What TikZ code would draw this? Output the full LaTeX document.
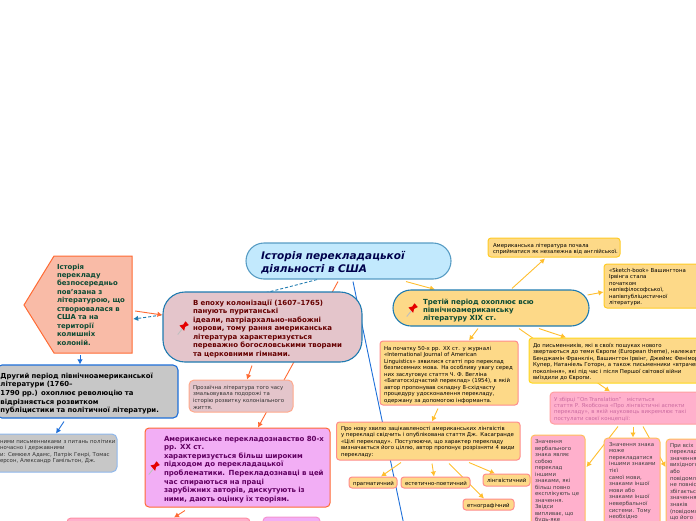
\documentclass[tikz,border=0pt]{standalone}
\usepackage{fontspec}
\setmainfont{DejaVu Sans}
\usetikzlibrary{arrows.meta,backgrounds}
\newcommand\Z[1]{\mbox{#1}\par}
% name, x1, y1, x2, y2, style, left pad, first baseline offset, lines
\newcommand\bx[9]{%
  \pgfmathsetmacro\bxw{#4-#2}\pgfmathsetmacro\bxh{#5-#3}%
  \pgfmathsetmacro\bxcx{(#2+#4)/2}\pgfmathsetmacro\bxcy{(#3+#5)/2}%
  \pgfmathsetmacro\bxt{max(#4-#2-2*#7,1)}\pgfmathsetmacro\bxd{#5-#3-#8}%
  \node[#6,inner xsep=#7pt,inner ysep=0pt,text width=\bxt pt,
        text height=#8pt,text depth=\bxd pt] (#1) at (\bxcx,\bxcy) {#9};}
\newcommand\pin[2]{%
  \begin{scope}[shift={(#1,#2)},scale=1.25]
    \draw[black!25,line width=.9pt] (-5,6) -- (-.5,.5);
    \fill[red!90!black] (-3.6,-1.2) -- (-.6,-2) -- (1.2,-4.6) -- (3.8,-1.6) -- (.9,-.1) -- (.1,3) -- cycle;
  \end{scope}}
\definecolor{ylw}{HTML}{FDD988}
\definecolor{rosy}{HTML}{E4C5CB}
\definecolor{ogr}{HTML}{FF6A33}
\definecolor{gold}{HTML}{FFBE2E}
\definecolor{blu}{HTML}{1E6FD9}
\definecolor{tblu}{HTML}{1F7BB0}
\definecolor{pnk}{HTML}{FFB0CC}
\definecolor{orch}{HTML}{F2AEF5}
\definecolor{salm}{HTML}{F9BBA7}
\definecolor{dgrn}{HTML}{0B4A33}
\definecolor{skyb}{HTML}{C2E9FD}
\tikzset{
  box/.style={draw,rectangle,line width=1pt,anchor=center},
  big/.style={box,rounded corners=18pt,draw=tblu,line width=1.1pt},
  fa/.style={font=\fontsize{5.4}{6.5}\selectfont},
  fb/.style={font=\bfseries\fontsize{7}{8.55}\selectfont},
  yb/.style={box,fa,fill=ylw,rounded corners=3pt},
  tag/.style={yb,draw=#1},
  tag/.default={red!45},
  arr/.style={-{Latex[length=5pt,width=5.5pt]},line width=.9pt},
  og/.style={arr,draw=ogr},
  gd/.style={arr,draw=gold},
  bl/.style={arr,draw=blu}
}
\begin{document}
\begin{tikzpicture}[x=1pt,y=-1pt]
\useasboundingbox (0,0) rectangle (696,520);
\clip (0,0) rectangle (696,520);

\bx{root}{246}{243}{451}{279}{big,draw=tblu!75,fill=skyb,text=blue!30!black,font=\bfseries\itshape\fontsize{10.5}{12.7}\selectfont}{15}{16.5}{\Z{Історія перекладацької}\Z{діяльності в США}}

\bx{col}{163}{292}{362}{362}{big,rounded corners=22pt,fill=rosy,text=red!40!black,fb}{30}{13}{\Z{В епоху колонізації (1607–1765)}\Z{панують пуританські}\Z{ідеали, патріархально-набожні}\Z{норови, тому рання американська}\Z{література характеризується}\Z{переважно богословськими творами}\Z{та церковними гімнами.}}

\draw[line width=1pt,draw=ogr,fill=salm] (54,256) -- (132,256) -- (132,353) -- (54,353) -- (24,305) -- cycle;
\bx{pent}{24}{256}{132}{353}{rectangle,text=dgrn,fb,font=\bfseries\fontsize{6.9}{8.45}\selectfont}{33}{13}{\Z{Історія}\Z{перекладу}\Z{безпосередньо}\Z{пов'язана з}\Z{літературою, що}\Z{створювалася в}\Z{США та на}\Z{території}\Z{колишніх}\Z{колоній.}}

\bx{grey}{-3}{365}{178}{418}{box,rounded corners=5pt,draw=blu,line width=1.1pt,fill=black!22,text=black,fb,font=\bfseries\fontsize{6.9}{8.7}\selectfont}{3.5}{13}{\Z{Другий період північноамериканської}\Z{літератури (1760–}\Z{1790 рр.) охоплює революцію та}\Z{відрізняється розвитком}\Z{публіцистики та політичної літератури.}}

\bx{sgrey}{-40}{434}{117}{472}{box,rounded corners=5pt,draw=blu!50,fill=black!22,text=black!80,fa}{40}{9}{\Z{ними письменниками з питань політики}\Z{ночасно і державними}\Z{и: Семюел Адамс, Патрік Генрі, Томас}\Z{ерсон, Александр Гамільтон, Дж.}}

\bx{brown}{189}{380}{293}{412}{box,rounded corners=5pt,draw=orange!50!red!45!white,fill=rosy,text=black!80,font=\fontsize{5.4}{6.7}\selectfont}{4}{9}{\Z{Прозаїчна література того часу}\Z{змальовувала подорожі та}\Z{історію розвитку колоніального}\Z{життя.}}

\bx{purp}{145}{428}{330}{507}{box,rounded corners=4pt,draw=ogr,fill=orch,text=violet!75!black,fb,font=\bfseries\fontsize{7}{8.6}\selectfont}{19}{13}{\Z{Американське перекладознавство 80-х}\Z{рр. XX ст.}\Z{характеризується більш широким}\Z{підходом до перекладацької}\Z{проблематики. Перекладознавці в цей}\Z{час спираються на праці}\Z{зарубіжних авторів, дискутують із}\Z{ними, дають оцінку їх теоріям.}}

\bx{pinka}{67}{518}{250}{570}{box,rounded corners=4pt,draw=pnk!80!red,fill=pnk,fa}{4}{9}{}
\bx{orcha}{263}{517}{320}{570}{box,rounded corners=4pt,draw=orch!85!red,fill=orch,fa}{4}{9}{}

\bx{third}{393}{290}{589}{326}{big,fill=ylw,text=dgrn,fb,font=\bfseries\fontsize{7}{8.35}\selectfont}{30}{14}{\Z{Третій період охоплює всю}\Z{північноамериканську}\Z{літературу XIX ст.}}

\bx{amer}{488}{238}{620}{257}{yb,draw=gold!80!yellow}{5}{9}{\Z{Американська література почала}\Z{сприйматися як незалежна від англійської.}}

\bx{sket}{604}{264}{700}{308}{yb,draw=gold!80!yellow}{5}{8}{\Z{«Sketch-book» Вашингтона}\Z{Ірвінга стала}\Z{початком}\Z{напівфілософської,}\Z{напівпубліцистичної}\Z{літератури.}}

\bx{nach}{380}{341}{518}{405}{tag}{4}{9}{\Z{На початку 50-х рр. XX ст. у журналі}\Z{«International Journal of American}\Z{Linguistics» зявилися статті про переклад}\Z{безписемних мова. На особливу увагу серед}\Z{них заслуговує стаття Ч. Ф. Вегліна}\Z{«Багатосхідчастий переклад» (1954), в якій}\Z{автор пропонував складну 8-східчасту}\Z{процедуру удосконалення перекладу,}\Z{одержану за допомогою інформанта.}}

\bx{dop}{529}{338}{720}{383}{yb,draw=gold!60!yellow}{4}{9}{\Z{До письменників, які в своїх пошуках нового}\Z{звертаються до теми Європи (European theme), належать}\Z{Бенджамін Франклін, Вашингтон Ірвінг, Джеймс Фенімор}\Z{Купер, Натаніель Готорн, а також письменники «втраченого}\Z{покоління», які під час і після Першої світової війни}\Z{виїздили до Європи.}}

\bx{ont}{550}{392}{720}{424}{box,rounded corners=4pt,draw=pink!70!red!80,fill=pnk,text=magenta!70!black!70,font=\fontsize{5.4}{6.4}\selectfont}{4}{9}{\Z{У збірці "On Translation"\ \ \ міститься}\Z{стаття Р. Якобсона «Про лінгвістичні аспекти}\Z{перекладу», в якій науковець викремлює такі}\Z{постулати своєї концепції:}}

\bx{pro}{336.5}{422}{520}{460}{tag}{4.5}{8}{\Z{Про нову хвилю зацікавленості американських лінгвістів}\Z{у перекладі свідчить і опублікована стаття Дж. Касагранде}\Z{«Цілі перекладу». Постулюючи, що характер перекладу}\Z{визначається його ціллю, автор пропонує розрізняти 4 види}\Z{перекладу:}}

\bx{prag}{349}{477}{397}{488}{tag}{4}{8}{\Z{прагматичний}}
\bx{est}{401}{477}{470}{488}{tag}{4}{8}{\Z{естетично-поетичний}}
\bx{ling}{483}{474}{530}{486}{tag}{4}{8}{\Z{лінгвістичний}}
\bx{etn}{463}{499}{514}{510}{tag}{4}{8}{\Z{етнографічний}}

\bx{za}{531}{435}{585}{570}{box,rounded corners=4pt,draw=gold!70!pink,fill=pnk,text=black!75,fa}{4}{8.5}{\Z{Значення}\Z{вербального}\Z{знака являє}\Z{собою}\Z{переклад}\Z{іншими}\Z{знаками, які}\Z{більш повно}\Z{експлікують це}\Z{значення.}\Z{Звідси}\Z{випливає, що}\Z{будь-яке}}
\bx{zb}{604}{438}{660}{570}{box,rounded corners=4pt,draw=gold!70!pink,fill=pnk,text=black!75,font=\fontsize{5.4}{6.6}\selectfont}{5}{8}{\Z{Значення знака}\Z{може}\Z{перекладатися}\Z{іншими знаками}\Z{тієї}\Z{самої мови,}\Z{знаками іншої}\Z{мови або}\Z{знаками іншої}\Z{невербальної}\Z{системи. Тому}\Z{необхідно}}
\bx{zc}{666}{439}{730}{570}{box,rounded corners=4pt,draw=gold!70!pink,fill=pnk,text=black!75,font=\fontsize{5.4}{6.6}\selectfont}{4}{8}{\Z{При всіх}\Z{перекладах}\Z{значення}\Z{вихідного}\Z{або}\Z{повідомлення}\Z{не повністю}\Z{збігається зі}\Z{значенням}\Z{знаків}\Z{(повідомлення)}\Z{що його}}

\pin{184}{327}
\pin{413}{309}
\pin{155}{467}

\coordinate (bot) at (405,530);

\begin{scope}[on background layer]
  \draw[arr,draw=tblu,dash pattern=on 3pt off 2pt] ([shift={(-31.5,0)}]root.south) .. controls (240,300) and (180,313) .. ([shift={(1,14.5)}]pent.east);
  \draw[og] ([shift={(3,6.5)}]pent.east) -- ([shift={(0,-12)}]col.west);
  \draw[og] ([shift={(-10.5,2)}]root.south) -- ([shift={(20.5,0)}]purp.north);
  \draw[og] ([shift={(-10.5,3)}]col.south) -- ([shift={(6,0)}]brown.north);
  \draw[og] ([shift={(-52.5,3)}]purp.south) -- ([shift={(15.5,0)}]pinka.north);
  \draw[bl] ([shift={(2,2)}]pent.south) -- ([shift={(-7.5,0)}]grey.north);
  \draw[bl] ([shift={(-23.5,3)}]grey.south) -- ([shift={(17.5,0)}]sgrey.north);
  \draw[line width=.9pt,draw=blu] ([shift={(4.5,2)}]root.south) -- (bot);
  \draw[gd] ([shift={(57.5,2)}]root.south) -- ([shift={(-56,0)}]third.north);
  \draw[gd] ([shift={(21,-1)}]third.north) -- ([shift={(-9,1)}]amer.south);
  \draw[gd] ([shift={(-2,-13)}]third.east) -- ([shift={(0,6)}]sket.west);
  \draw[gd] ([shift={(-13,2)}]third.south) -- ([shift={(20,0)}]nach.north);
  \draw[gd] ([shift={(48,2)}]third.south) -- ([shift={(-58.5,0)}]dop.north);
  \draw[gd] ([shift={(28,2)}]third.south) -- ([shift={(-25,0)}]ont.north);
  \draw[gd] ([shift={(-11,3)}]nach.south) -- ([shift={(3.75,0)}]pro.north);
  \draw[gd] ([shift={(-27.25,2)}]pro.south) -- ([shift={(8,0)}]prag.north);
  \draw[gd] ([shift={(3.75,3)}]pro.south) -- ([shift={(-1.5,0)}]est.north);
  \draw[gd] ([shift={(40.75,2)}]pro.south) -- ([shift={(-11.5,0)}]ling.north);
  \draw[gd] ([shift={(20.75,3)}]pro.south) -- ([shift={(-4.5,0)}]etn.north);
  \draw[gd] ([shift={(-17,2)}]ont.south) -- ([shift={(1,-35.5)}]za.east);
  \draw[gd] ([shift={(-2,2)}]ont.south) -- ([shift={(1,0)}]zb.north);
  \draw[gd] ([shift={(8,2)}]ont.south) -- ([shift={(0,-37.5)}]zc.west);
\end{scope}
\end{tikzpicture}
\end{document}
